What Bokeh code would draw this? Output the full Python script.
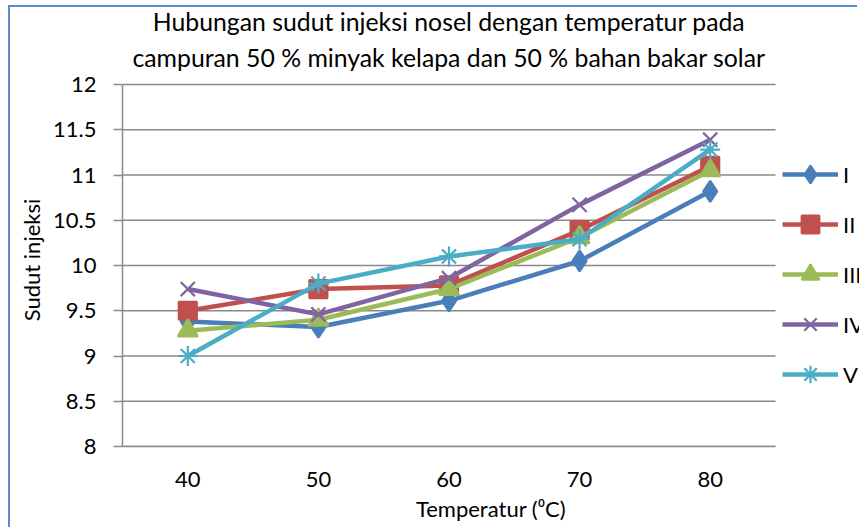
from bokeh.plotting import figure
from bokeh.models import Range1d, FixedTicker, Legend, LegendItem, Label
from bokeh.embed import file_html
from bokeh.resources import INLINE

temperatures = [40, 50, 60, 70, 80]
series_names = ["I", "II", "III", "IV", "V"]
s1 = [9.38, 9.32, 9.61, 10.05, 10.82]
s2 = [9.50, 9.74, 9.78, 10.39, 11.10]
s3 = [9.28, 9.40, 9.74, 10.31, 11.05]
s4 = [9.74, 9.46, 9.86, 10.67, 11.39]
s5 = [9.00, 9.80, 10.10, 10.29, 11.28]
y_ticks = [8, 8.5, 9, 9.5, 10, 10.5, 11, 11.5, 12]
y_tick_labels = ["8", "8.5", "9", "9.5", "10", "10.5", "11", "11.5", "12"]
title_lines = ["Hubungan sudut injeksi nosel dengan temperatur pada",
               "campuran 50 % minyak kelapa dan 50 % bahan bakar solar"]

colors = ["#4A7EBB", "#C0504D", "#9BBB59", "#8064A2", "#4BACC6"]
markers = ["diamond", "square", "triangle", "x", "asterisk"]
msizes = [21, 18, 20, 20, 20]

FONT = "Lato"
GRID = "#898989"

# layout (pixels)
W, H = 849, 522
LEFT, BOTTOM = 112, 83
PLOT_TOP = 77                    # y=12 gridline, px from canvas top
PLOT_H = 362                     # 8..12 span in px
PLOT_W = 653                     # width of the category area
FRAME_W = W - LEFT               # frame runs to the right edge (legend inside)
X0, X1 = 35, 85                  # category area in data units
Y0, Y1 = 8, 12
x_end = X0 + FRAME_W * (X1 - X0) / PLOT_W
px_per_y = PLOT_H / (Y1 - Y0)
y_end = Y1 + PLOT_TOP / px_per_y
TITLE_BASELINES = [14, 50]       # px from canvas top
# the frame extends over the title area, so the (frame-centred) y-axis title is
# padded with em spaces to sit centred on the 8..12 span
Y_LABEL_PAD = "\u2003" * 4

p = figure(width=W, height=H, output_backend="svg", toolbar_location=None,
           title=None,
           x_range=Range1d(X0, x_end), y_range=Range1d(Y0, y_end),
           min_border_left=LEFT, min_border_right=0, min_border_top=0,
           min_border_bottom=BOTTOM)
p.styles = {"margin-left": "8px", "margin-top": "5px",
            "border-left": "2px solid #5B8BC9", "border-top": "2px solid #5B8BC9"}
p.outline_line_color = None
p.background_fill_color = "white"
p.border_fill_color = "white"

# title lines, each centred over the category area
for line, base in zip(title_lines, TITLE_BASELINES):
    p.add_layout(Label(x=(X0 + X1) / 2, y=Y1 + (PLOT_TOP - base) / px_per_y,
                       text=line, text_align="center",
                       text_baseline="alphabetic", text_font=FONT,
                       text_font_size="24.8px", text_color="#000000"))

# axes
p.xaxis.ticker = FixedTicker(ticks=temperatures)
p.xaxis.bounds = (X0, X1)
p.yaxis.ticker = FixedTicker(ticks=y_ticks)
p.yaxis.bounds = (Y0, Y1)
p.yaxis.major_label_overrides = {t: l for t, l in zip(y_ticks, y_tick_labels)}
for ax in (p.xaxis, p.yaxis):
    ax.axis_line_color = GRID
    ax.axis_line_width = 1.5
    ax.major_tick_line_color = GRID
    ax.major_tick_line_width = 1.5
    ax.minor_tick_line_color = None
    ax.major_label_text_font = FONT
    ax.major_label_text_font_size = "22px"
    ax.major_label_text_color = "#000000"
    ax.axis_label_text_font = FONT
    ax.axis_label_text_font_size = "22px"
    ax.axis_label_text_font_style = "normal"
    ax.axis_label_text_color = "#000000"
p.xaxis.major_tick_out = 0
p.xaxis.major_tick_in = 0
p.xaxis.major_label_standoff = 25
p.xaxis.axis_label = "Temperatur (\u2070C)"
p.xaxis.axis_label_standoff = 5
p.yaxis.major_tick_out = 9
p.yaxis.major_tick_in = 0
p.yaxis.major_label_standoff = 17
p.yaxis.axis_label = "Sudut injeksi" + Y_LABEL_PAD
p.yaxis.axis_label_standoff = 5

# horizontal gridlines limited to the category area
p.xgrid.visible = False
p.ygrid.visible = False
p.segment(x0=[X0] * len(y_ticks), x1=[X1] * len(y_ticks), y0=y_ticks, y1=y_ticks,
          line_color=GRID, line_width=1.5, level="underlay")

all_series = [s1, s2, s3, s4, s5]
items = []
for name, ys, c, m, ms in zip(series_names, all_series, colors, markers, msizes):
    r1 = p.line(temperatures, ys, line_color=c, line_width=4.5)
    r2 = p.scatter(temperatures, ys, marker=m, size=ms, fill_color=c,
                   line_color=c, line_width=2.2)
    items.append(LegendItem(label=name, renderers=[r1, r2]))

legend = Legend(items=items, location=(PLOT_W + 7, 50), orientation="vertical",
                glyph_width=56, glyph_height=44, label_height=44, spacing=6,
                label_standoff=5, padding=0, margin=0,
                label_text_font=FONT, label_text_font_size="22px",
                label_text_color="#000000", border_line_color=None,
                background_fill_alpha=0)
p.add_layout(legend)

open("out.html", "w").write(file_html(p, INLINE))
